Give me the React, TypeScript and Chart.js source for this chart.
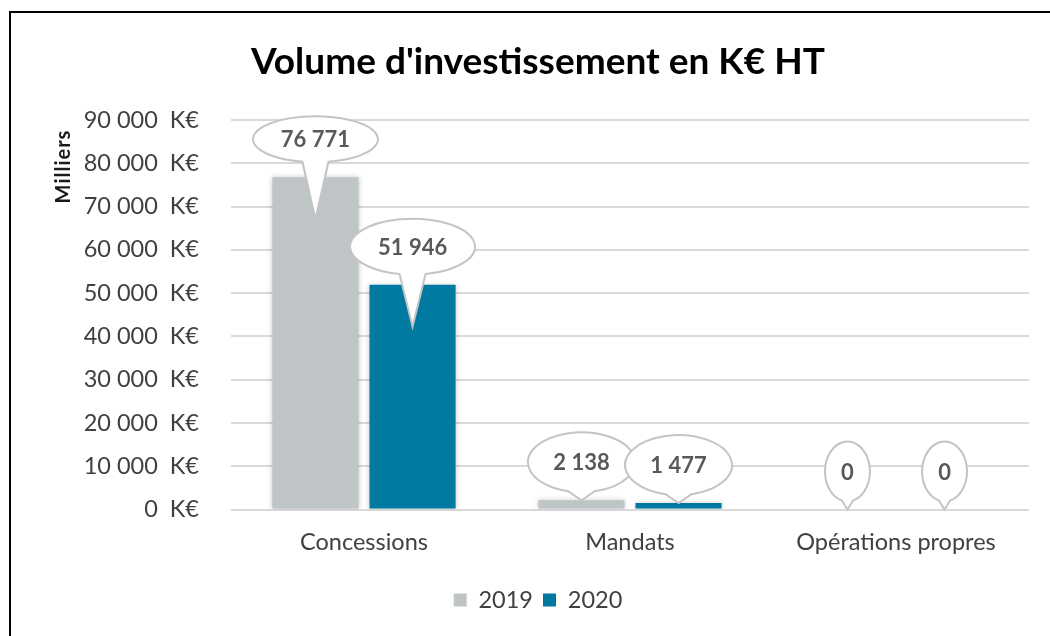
import React, { useEffect, useRef } from "react";
import { Chart, registerables } from "chart.js";

Chart.register(...registerables);

// ---- data ----
const categories = ["Concessions", "Mandats", "Opérations propres"];
const seriesLabels = ["2019", "2020"];
const values2019 = [76771, 2138, 0];
const values2020 = [51946, 1477, 0];
const yMin = 0;
const yMax = 90000;
const yStep = 10000;
const unitLabel = "K€";
const titleText = "Volume d'investissement en K€ HT";
const yAxisTitle = "Milliers";

// ---- styles ----
const FONT = "Lato, 'Open Sans', 'Noto Sans', sans-serif";
const COLORS = ["#BFC4C7", "#007AA0"];
const TEXT = "#404040";
// ellipse vertical radii of the callouts [category][series]
const BUBBLE_RY = [
  [23, 28],
  [30, 30],
  [30, 30],
];

function groupThousands(v: number): string {
  return Math.round(v)
    .toString()
    .replace(/\B(?=(\d{3})+(?!\d))/g, "\u202F");
}

const shadowPlugin = {
  id: "barShadow",
  beforeDatasetsDraw(chart: any) {
    const c = chart.ctx;
    c.save();
    c.shadowColor = "rgba(0,0,0,0.22)";
    c.shadowBlur = 5;
  },
  afterDatasetsDraw(chart: any) {
    chart.ctx.restore();
  },
};

const calloutPlugin = {
  id: "callouts",
  afterDatasetsDraw(chart: any) {
    const ctx = chart.ctx;
    ctx.save();
    ctx.font = `bold 22px ${FONT}`;
    chart.data.datasets.forEach((ds: any, di: number) => {
      const meta = chart.getDatasetMeta(di);
      meta.data.forEach((el: any, i: number) => {
        const v = ds.data[i] as number;
        const text = groupThousands(v);
        const tw = ctx.measureText(text).width;
        const rx = (tw / 2 + 9.5) * Math.SQRT2;
        const ry = BUBBLE_RY[i][di];
        const top = el.y;
        const base = el.base;
        const cx = el.x;
        const cy = top - 38;
        const tipY = top + (base - top > 100 ? 42 : 0);
        const w = Math.min(13, rx * 0.25);
        const t1 = Math.acos(w / rx);
        const t2 = Math.PI - t1;
        ctx.beginPath();
        ctx.moveTo(cx, tipY);
        ctx.lineTo(cx + w, cy + ry * Math.sin(t1));
        ctx.ellipse(cx, cy, rx, ry, 0, t1, t2, true);
        ctx.closePath();
        ctx.fillStyle = "#ffffff";
        ctx.fill();
        ctx.lineWidth = 2;
        ctx.strokeStyle = "#C4C4C4";
        ctx.stroke();
        ctx.fillStyle = "#595959";
        ctx.textAlign = "center";
        ctx.textBaseline = "middle";
        ctx.fillText(text, cx, cy + 1);
      });
    });
    ctx.restore();
  },
};

const yTitlePlugin = {
  id: "yTitle",
  afterDraw(chart: any) {
    const ctx = chart.ctx;
    ctx.save();
    ctx.translate(16.5, 154.5);
    ctx.rotate(-Math.PI / 2);
    ctx.font = `bold 20px ${FONT}`;
    (ctx as any).letterSpacing = "1px";
    ctx.fillStyle = "#1a1a1a";
    ctx.textAlign = "center";
    ctx.textBaseline = "middle";
    ctx.fillText(yAxisTitle, 0, 0);
    ctx.restore();
  },
};

export default function App() {
  const ref = useRef<HTMLCanvasElement | null>(null);

  useEffect(() => {
    if (!ref.current) return;
    const tickFont = { family: FONT, size: 23.5 };
    const chart = new Chart(ref.current, {
      type: "bar",
      data: {
        labels: categories,
        datasets: [
          {
            label: seriesLabels[0],
            data: values2019,
            backgroundColor: COLORS[0],
            borderWidth: 0,
          },
          {
            label: seriesLabels[1],
            data: values2020,
            backgroundColor: COLORS[1],
            borderWidth: 0,
          },
        ],
      },
      options: {
        responsive: false,
        animation: false,
        events: [],
        datasets: {
          bar: { categoryPercentage: 0.73, barPercentage: 0.887 },
        },
        layout: { padding: { left: 0, right: 37, top: 0, bottom: 14.25 } },
        plugins: {
          title: {
            display: true,
            text: titleText,
            color: "#000000",
            font: { family: FONT, size: 37, weight: "bold" },
            padding: { top: 28.3, bottom: 35.3 },
          },
          legend: {
            position: "bottom",
            labels: {
              boxWidth: 13,
              boxHeight: 13,
              padding: 10,
              color: TEXT,
              font: tickFont,
            },
          },
          tooltip: { enabled: false },
        },
        scales: {
          x: {
            grid: { display: false, drawTicks: false },
            border: { display: false },
            ticks: { padding: 18.4, color: TEXT, font: tickFont },
            afterFit: (s: any) => {
              s.height = 68.75;
            },
          },
          y: {
            min: yMin,
            max: yMax,
            ticks: {
              stepSize: yStep,
              padding: 32,
              color: TEXT,
              font: tickFont,
              callback: (v: any) => groupThousands(Number(v)) + "\u00A0\u00A0" + unitLabel,
            },
            grid: { color: "#D9D9D9", lineWidth: 2, drawTicks: false },
            border: { display: false },
            afterFit: (s: any) => {
              s.width = 184;
            },
          },
        },
      } as any,
      plugins: [shadowPlugin, calloutPlugin, yTitlePlugin],
    });
    return () => chart.destroy();
  }, []);

  return (
    <div
      style={{
        position: "fixed",
        left: 0,
        top: 0,
        width: 1050,
        height: 636,
        overflow: "hidden",
        background: "#ffffff",
      }}
    >
      <canvas
        ref={ref}
        width={1019}
        height={624}
        style={{ position: "absolute", left: 47, top: 12, width: 1019, height: 624 }}
      />
      <div
        style={{
          position: "absolute",
          left: 9,
          top: 11,
          width: 2000,
          height: 2000,
          border: "2px solid #000",
          boxSizing: "border-box",
          pointerEvents: "none",
        }}
      />
    </div>
  );
}
